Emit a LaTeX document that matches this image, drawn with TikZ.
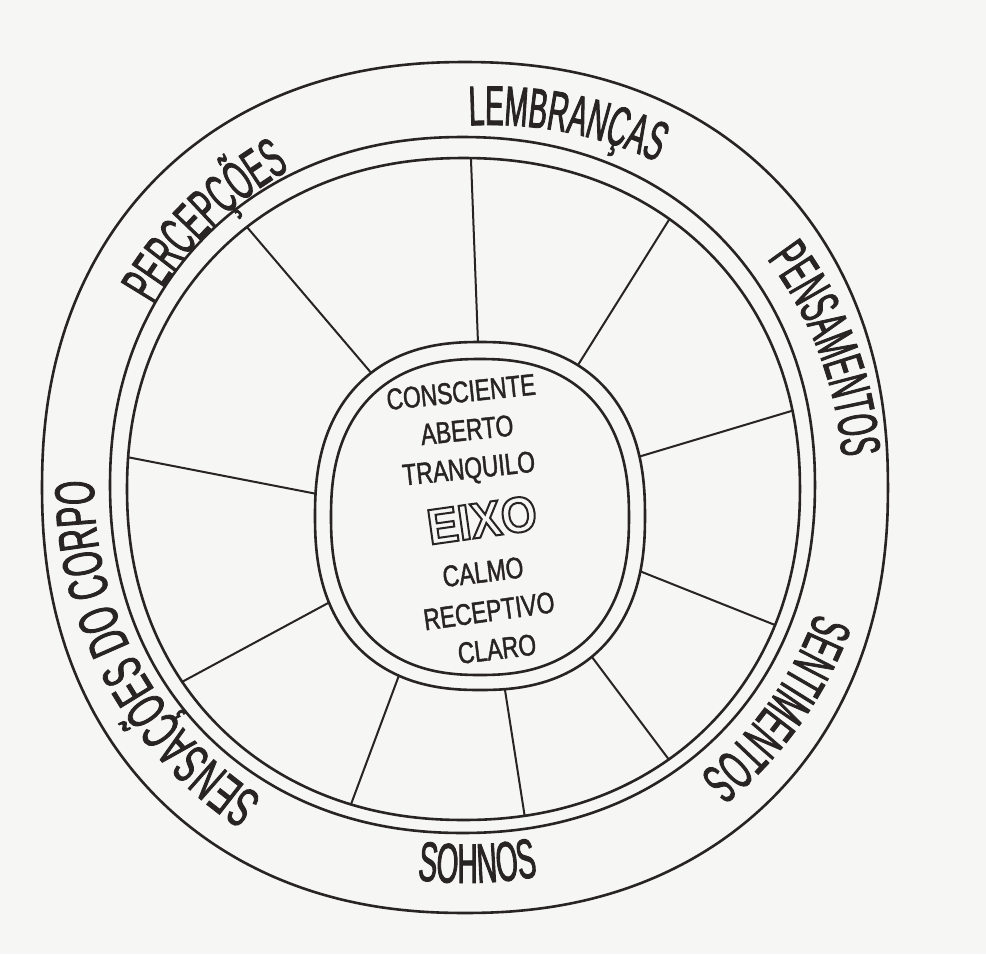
\documentclass[tikz,border=0pt]{standalone}
\usepackage{fontspec}
\usetikzlibrary{decorations.text,calc,intersections}
\setmainfont{Liberation Sans}
\newfontfamily\labfont[FakeStretch=0.5,FakeBold=1.5]{Liberation Sans}
\newfontfamily\labfontw[FakeStretch=0.56,FakeBold=1.5]{Liberation Sans}
\newfontfamily\midfont[FakeStretch=0.76,FakeBold=1.4]{Liberation Sans}
\newfontfamily\eixofont[FakeStretch=0.92]{Liberation Sans}
\newcommand\labsize{\fontsize{56}{56}\selectfont}
\newcommand\hollowtext[1]{\special{pdf:literal direct 1 Tr 2 w}#1\special{pdf:literal direct 0 Tr}}
\definecolor{ink}{RGB}{40,36,36}
\definecolor{paper}{RGB}{246,246,244}
\tikzset{
  ringline/.style={draw=ink, line width=2.6pt, line join=round},
  spokeline/.style={draw=ink, line width=2pt, line cap=round},
  word/.style={text=ink, inner sep=0pt, font=\midfont\fontsize{30}{30}\selectfont},
  curved/.style={decorate, decoration={text along path, text align=center, text color=ink, text={#1}}},
  declare function={
    sqx(\t,\e)=cos(\t)*(abs(cos(\t))+0.0001)^(\e);
    sqy(\t,\e)=sin(\t)*(abs(sin(\t))+0.0001)^(\e);
  },
}
\begin{document}
\begin{tikzpicture}[x=1pt,y=1pt]
\fill[paper] (0,0) rectangle (986,-954);
\useasboundingbox (0,0) rectangle (986,-954);

% outer circle
\draw[ringline, name path=outerc] plot[domain=0:360, samples=145, smooth]
  ({465+423*sqx(\x,-0.085)}, {-487.5+425.5*sqy(\x,-0.085)}) -- cycle;
% ring: outer line
\draw[ringline, name path=rimout] plot[domain=0:360, samples=145, smooth]
  ({462.5+352.5*sqx(\x,-0.06)}, {-485+348*sqy(\x,-0.06)}) -- cycle;
% ring: inner line
\draw[ringline, name path=rimin] plot[domain=0:360, samples=145, smooth]
  ({463.5+336.5*sqx(\x,-0.06)}, {-489+331*sqy(\x,-0.06)}) -- cycle;
% hub: outer and inner line
\draw[ringline, name path=hubout] plot[domain=0:360, samples=145, smooth]
  ({480+165*sqx(\x,-0.16)}, {-516+174*sqy(\x,-0.16)}) -- cycle;
\draw[ringline, name path=hubin] plot[domain=0:360, samples=145, smooth]
  ({480+149*sqx(\x,-0.16)}, {-517+158*sqy(\x,-0.16)}) -- cycle;

% spokes (directions from the reference)
\coordinate (s1o) at (258,-240);  \coordinate (s1i) at (367,-368);
\coordinate (s2o) at (471,-160);  \coordinate (s2i) at (478,-343);
\coordinate (s3o) at (672,-215);  \coordinate (s3i) at (583,-357);
\coordinate (s4o) at (788,-412);  \coordinate (s4i) at (638,-457);
\coordinate (s5o) at (770,-623);  \coordinate (s5i) at (637,-570);
\coordinate (s6o) at (667,-757);  \coordinate (s6i) at (592,-657);
\coordinate (s7o) at (525,-818);  \coordinate (s7i) at (505,-690);
\coordinate (s8o) at (350,-807);  \coordinate (s8i) at (398,-678);
\coordinate (s9o) at (180,-683);  \coordinate (s9i) at (330,-602);
\coordinate (s10o) at (132,-458); \coordinate (s10i) at (312,-493);
\foreach \k in {1,...,10} {
  \path[name path=ray] ($(s\k i)!-0.3!(s\k o)$) -- ($(s\k i)!1.25!(s\k o)$);
  \path[name intersections={of=ray and hubout, by={hA}}];
  \path[name intersections={of=ray and rimin, by={rA}}];
  \draw[spokeline] (hA) -- (rA);
}

% curved labels
\coordinate (C) at (466,-486);
\coordinate (CL) at (490,-520);
\path[curved={|\labfont\labsize|LEMBRANÇAS}]
  ([shift={(100:395)}]CL) arc[start angle=100, end angle=58, radius=395];
\path[curved={|\labfont\labsize|PERCEPÇÕES}]
  ([shift={(158:362)}]C) arc[start angle=158, end angle=111, radius=362];
\path[curved={|\labfont\labsize|PENSAMENTOS}]
  ([shift={(46:377)}]C) arc[start angle=46, end angle=-4.6, radius=377];
\path[curved={|\labfont\labsize|SENTIMENTOS}]
  ([shift={(-10:372)}]C) arc[start angle=-10, end angle=-61, radius=372];
\path[curved={|\labfont\labsize|SOHNOS}]
  ([shift={(250:397)}]C) arc[start angle=250, end angle=293.4, radius=397];
\path[curved={|\labfontw\labsize|SENSAÇÕES DO CORPO}]
  ([shift={(245:372)}]C) arc[start angle=245, end angle=171, radius=372];

% central words
\node[word, rotate=6] (w1) at (461,-392) {CONSCIENTE};
\node[word, rotate=6] (w2) at (467,-430) {ABERTO};
\node[word, rotate=6] (w3) at (469,-471) {TRANQUILO};
\node[inner sep=0pt, rotate=8, text=ink, font=\eixofont\bfseries\fontsize{50}{50}\selectfont] (w4) at (482,-520)
  {\hollowtext{EIXO}};
\node[word, rotate=7] (w5) at (483,-572) {CALMO};
\node[word, rotate=8] (w6) at (489,-611) {RECEPTIVO};
\node[word, rotate=7] (w7) at (497,-649) {CLARO};
\end{tikzpicture}
\end{document}
